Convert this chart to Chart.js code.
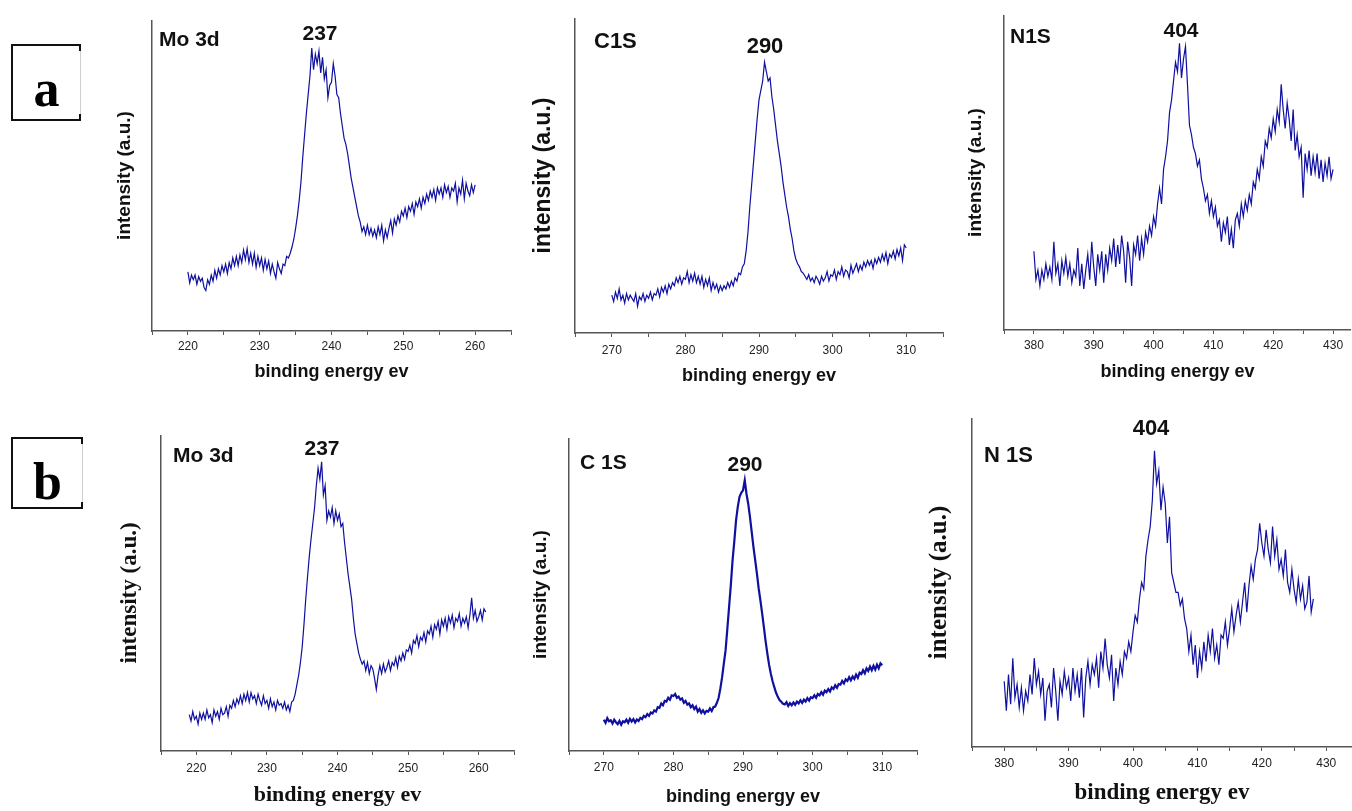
<!DOCTYPE html>
<html>
<head>
<meta charset="utf-8">
<script src="https://cdn.jsdelivr.net/npm/chart.js@4.4.1/dist/chart.umd.min.js"></script>
<style>
  html, body { margin: 0; padding: 0; background: #fff; overflow: hidden; }
  body { width: 1352px; height: 811px; position: relative; font-family: "Liberation Sans", Arial, sans-serif; }
  .panel { position: absolute; }
  .note { position: absolute; font-weight: bold; font-size: 21px; line-height: 1; color: #111; white-space: nowrap; transform: translateY(-50%); }
  .peak { transform: translate(-50%, -50%); }
  .tag { position: absolute; box-sizing: border-box; border: 2px solid #111; border-right: 1px solid #cfcfcf;
         font-family: "Liberation Serif", "Times New Roman", serif; font-weight: bold; font-size: 52px;
         line-height: 85px; text-align: center; color: #000; }
  .tag::before, .tag::after { content: ""; position: absolute; right: -1px; width: 2px; height: 7px; background: #111; }
  .tag::before { top: -2px; }
  .tag::after { bottom: -2px; }
</style>
</head>
<body>

<div class="tag" style="left:11px; top:44px; width:70px; height:77px;">a</div>
<div class="tag" style="left:11px; top:437px; width:72px; height:72px;">b</div>

<div class="panel" style="left:109px; top:20px; width:406px; height:367px;"><canvas id="moA"></canvas></div>
<div class="panel" style="left:526px; top:18px; width:423px; height:373px;"><canvas id="cA"></canvas></div>
<div class="panel" style="left:960px; top:15px; width:391px; height:372px;"><canvas id="nA"></canvas></div>
<div class="panel" style="left:112px; top:435px; width:408px; height:376px;"><canvas id="moB"></canvas></div>
<div class="panel" style="left:525px; top:438px; width:397px; height:372px;"><canvas id="cB"></canvas></div>
<div class="panel" style="left:921px; top:418px; width:431px; height:391px;"><canvas id="nB"></canvas></div>

<div class="note" style="left:159px; top:38px;">Mo 3d</div>
<div class="note peak" style="left:320px; top:32px;">237</div>
<div class="note" style="left:594px; top:41px; font-size:22px;">C1S</div>
<div class="note peak" style="left:765px; top:46px; font-size:22px;">290</div>
<div class="note" style="left:1010px; top:35px;">N1S</div>
<div class="note peak" style="left:1181px; top:29px;">404</div>
<div class="note" style="left:173px; top:454px;">Mo 3d</div>
<div class="note peak" style="left:322px; top:447px;">237</div>
<div class="note" style="left:580px; top:461px;">C 1S</div>
<div class="note peak" style="left:745px; top:463px;">290</div>
<div class="note" style="left:984px; top:455px; font-size:22px;">N 1S</div>
<div class="note peak" style="left:1151px; top:428px; font-size:22px;">404</div>

<script>
// x ranges of the energy axes (eV)
const moRange = [215, 265];
const cRange = [265, 315];
const nRangeA = [375, 433];
const nRangeB = [375, 434];

// scan grids: first energy and spacing (eV)
const moA_start = 220, moA_step = 0.25;
const cA_start = 270, cA_step = 0.25;
const nA_start = 380, nA_step = 1 / 3;
const moB_start = 219, moB_step = 0.25;
const cB_start = 270, cB_step = 0.25;
const nB_start = 380, nB_step = 1 / 3;

// intensities (a.u.)
const moA = [
  19, 15.5, 18, 16.5, 18, 15, 17.5, 16, 17, 14, 13, 16.5, 15, 18, 16, 19.5,
  17, 20, 18, 21, 19, 21.5, 18.5, 22, 20, 23.5, 21, 24, 21, 24.5, 22, 26,
  23, 26.5, 22, 25, 21.5, 25, 20.5, 24, 21, 23.5, 19.5, 23, 20, 22.5, 18.5, 21.5,
  19, 17, 22, 20, 18.5, 21.5, 21, 24, 23.5, 25, 27, 29.5, 33, 37, 42, 48,
  56, 63, 70, 76, 82, 91, 84, 89, 86, 90, 83, 88, 81, 84, 75, 79,
  80, 86, 82, 76, 75, 70, 66, 62, 60, 57, 53, 49, 46, 43, 40, 37,
  35, 32, 33.5, 31, 34, 31, 33, 30.5, 32.5, 30, 33.5, 31, 34, 29, 32.5, 30,
  33, 35.5, 31.5, 36, 34, 37, 35, 38.5, 37, 39.5, 36.5, 40, 38.5, 41, 37.5, 41.5,
  40, 42.5, 39.5, 43, 41, 44, 42, 45, 43, 45.5, 42, 46, 44, 46, 43, 47,
  44.5, 46.5, 43, 46, 45, 47.5, 41.5, 46, 44, 48.5, 42.5, 47.5, 45, 43.5, 47, 44.5,
  47
];
const cA = [
  12, 10, 13, 11, 14, 10.5, 12, 9.5, 12.5, 10.5, 12, 11, 10, 12.5, 8.5, 11.5,
  10.5, 12.5, 10, 12, 11, 13, 10.5, 12.5, 12, 14, 11.5, 14.5, 13, 15, 12.5, 15.5,
  14, 16, 15, 17.5, 16, 18, 15.5, 17.5, 17, 19.5, 16, 18.5, 16.5, 19, 16, 18,
  15.5, 18, 14.5, 17, 15, 17.5, 13.5, 16, 14, 15.5, 13, 15, 13.5, 15, 14, 16,
  14.5, 16.5, 15, 17.5, 16.5, 19, 18.5, 21, 22, 26, 32, 40, 47, 54, 61, 68,
  74, 77, 80, 86, 83, 80, 81, 75, 71, 66, 61, 57, 53, 48, 44, 40,
  37, 33, 30, 26, 23.5, 22, 21, 19.5, 19, 18, 17, 18.5, 16.5, 17.5, 16, 18,
  17, 15.5, 18, 16.5, 17.5, 19.5, 16.5, 18.5, 18, 20, 17, 19.5, 18.5, 21, 18, 20,
  19.5, 17.5, 21.5, 19, 20.5, 22, 19.5, 21.5, 20, 22.5, 21, 23, 21.5, 23, 20.5, 23.5,
  22, 24, 22.5, 25, 23, 25.5, 22, 25, 24, 26, 23.5, 26.5, 24.5, 27, 23, 28,
  27
];
const nA = [
  25, 16, 19, 14, 19, 16, 21, 17, 20, 16, 28, 18, 21, 14, 22,
  18, 23, 17, 21, 15, 19, 17, 26, 14, 21, 13, 19, 24, 16, 28,
  20, 14, 24, 19, 25, 15, 24, 19, 26, 22, 29, 20, 27, 21, 30,
  25, 15, 28, 23, 14, 27, 24, 30, 22, 29, 24, 31, 28, 33, 30,
  36, 33, 40, 45, 40, 51, 55, 60, 69, 73, 79, 85, 82, 91, 80,
  86, 90, 78, 65, 62, 58, 56, 52, 54, 48, 45, 41, 43, 37, 41,
  36, 39, 33, 35, 28, 34, 31, 36, 27, 32, 26, 35, 37, 33, 40,
  36, 41, 38, 43, 40, 47, 45, 51, 48, 55, 52, 60, 58, 64, 61,
  67, 63, 70, 66, 78, 70, 64, 72, 67, 60, 70, 57, 62, 55, 58,
  42, 56, 51, 57, 49, 55, 50, 56, 48, 54, 47, 53, 49, 55, 48,
  51
];
const moB = [
  11.5, 9.5, 12.5, 10, 11, 8.5, 12, 10, 12, 10, 13, 10.5, 11.5, 9, 13, 11,
  12.5, 10, 13.5, 11.5, 12, 14, 11, 14.5, 13.5, 16, 14, 16.5, 15, 17.5, 15, 18,
  16, 18.5, 15.5, 18.5, 16.5, 17.5, 15, 18, 16, 14.5, 17.5, 15, 16, 13.5, 16.5, 14,
  15.5, 13, 16, 14.5, 15, 13.5, 15.5, 13, 14.5, 12.5, 15.5, 16, 18, 21, 24, 28,
  33, 40, 48, 55, 61.5, 67, 72, 77, 84, 89.5, 86, 91.5, 81, 84, 73, 76,
  74, 77, 72, 76, 73, 75, 71, 72, 66, 61, 56, 52, 48, 42, 37, 34,
  31, 29, 27.5, 28.5, 25.5, 28, 24.5, 27, 26, 23, 19.5, 24, 27, 24.5, 27.5, 25,
  26.5, 28.5, 25.5, 28, 27, 29.5, 26.5, 30, 28.5, 31, 29, 32, 31.5, 33.5, 31, 35,
  34, 36.5, 33, 36, 35, 37.5, 34.5, 38, 37, 39.5, 36, 40, 38.5, 41, 37, 41.5,
  39.5, 42, 38.5, 42.5, 40.5, 43, 39, 42, 41, 43.5, 39.5, 42, 40.5, 42.5, 39, 43,
  48.5, 42, 44.5, 41, 42.5, 44.5, 41.5, 45, 44
];
const cB = [
  10, 9, 10.5, 9.5, 9.8, 8.8, 10, 9.2, 8.6, 9.6, 8.4, 9.5, 9.2, 10, 9, 10.3,
  9.4, 10.2, 9.1, 10.1, 9.6, 10.6, 10.2, 11.2, 10.8, 11.8, 11.2, 12.3, 12, 13, 12.6, 14,
  13.8, 15.2, 14.6, 16, 15.8, 17, 16.4, 17.8, 17.6, 18.2, 17, 17.4, 16.4, 16.8, 15.4, 16,
  14.8, 15.2, 14, 14.6, 13.4, 14.2, 12.6, 13.4, 12.2, 13, 12, 12.8, 12.6, 13.6, 12.8, 14,
  14.2, 15.4, 17, 20, 23.6, 28, 32.2, 39, 46, 53, 60.9, 67, 73.7, 78, 81.2, 82.5,
  83.3, 86.5, 82.2, 79, 74.8, 70, 65.2, 61, 56.7, 52, 48.1, 44, 39.6, 35, 31.1, 27.5,
  24.7, 22.3, 20.4, 18.6, 17.3, 16.3, 15.7, 15.1, 14.9, 15.6, 14.4, 15.3, 14.6, 15.5, 14.8, 15.8,
  15.2, 16.2, 15.4, 16.4, 15.8, 16.9, 16.1, 17.2, 16.9, 17.8, 17, 18.2, 17.8, 18.8, 18, 19.3,
  18.8, 19.8, 19, 20.3, 19.8, 21, 20.2, 21.4, 21.2, 22.4, 21.6, 22.9, 22.4, 23.6, 22.6, 23.8,
  23, 24.4, 23.4, 25, 24.6, 25.8, 24.8, 26.4, 25.6, 27, 25.8, 27.2, 26, 27.6, 26.4, 28,
  27.4
];
const nB = [
  20, 11, 22, 13, 27, 15, 19, 12, 18, 11, 17, 14, 22, 16, 27,
  19, 23, 16, 21, 8, 17, 19, 12, 24, 17, 8, 20, 16, 23, 18,
  21, 14, 24, 17, 22, 15, 24, 9, 21, 26, 19, 25, 22, 27, 18,
  29, 24, 33, 25, 21, 28, 14, 24, 19, 26, 22, 29, 27, 32, 29,
  35, 40, 38, 45, 50, 48, 58, 63, 67, 75, 90, 80, 84, 72, 79,
  74, 62, 70, 53, 50, 47, 47, 43, 45, 39, 36, 29, 34, 25, 31,
  21, 29, 24, 32, 26, 34, 29, 36, 27, 31, 25, 34, 33, 38, 31,
  36, 42, 35, 40, 44, 38, 44, 50, 41, 49, 55, 51, 57, 60, 68,
  62, 58, 66, 60, 56, 67, 58, 63, 54, 57, 52, 60, 50, 47, 54,
  48, 44, 51, 45, 49, 42, 44, 52, 41, 45
];

const lineColor = "#1010a0";
const axisColor = "#555";
const sans = "'Liberation Sans', Arial, sans-serif";
const serif = "'Liberation Serif', 'Times New Roman', serif";

function spectrum(id, start, step, counts, range, look) {
  const points = counts.map((c, i) => ({ x: start + i * step, y: c }));
  new Chart(document.getElementById(id), {
    type: "line",
    data: {
      datasets: [{
        data: points,
        borderColor: lineColor,
        borderWidth: look.lw,
        pointRadius: 0,
        tension: 0,
        fill: false
      }]
    },
    options: {
      responsive: true,
      maintainAspectRatio: false,
      animation: false,
      events: [],
      layout: { padding: 0 },
      plugins: { legend: { display: false }, tooltip: { enabled: false } },
      scales: {
        x: {
          type: "linear",
          min: range[0],
          max: range[1],
          afterFit: (s) => { s.height = look.xH; },
          border: { display: true, color: axisColor, width: 1.5 },
          grid: { display: true, drawOnChartArea: false, drawTicks: true, tickLength: 4, color: axisColor, lineWidth: 1 },
          ticks: {
            stepSize: 5,
            autoSkip: false,
            includeBounds: false,
            maxRotation: 0,
            padding: look.tickPad,
            color: "#222",
            font: { family: sans, size: 12 },
            callback: (v) => (v % 10 === 0 ? String(v) : "")
          },
          title: {
            display: true,
            text: "binding energy ev",
            color: "#111",
            padding: { top: 0, bottom: look.xPad },
            font: { family: look.xFont, size: look.xSize, weight: "bold" }
          }
        },
        y: {
          min: 0,
          max: 100,
          afterFit: (s) => { s.width = look.yW; },
          border: { display: true, color: axisColor, width: 1.5 },
          grid: { display: false },
          ticks: { display: false },
          title: {
            display: true,
            text: "intensity (a.u.)",
            color: "#111",
            padding: { top: 4, bottom: 0 },
            font: { family: look.yFont, size: look.ySize, weight: "bold" }
          }
        }
      }
    }
  });
}

spectrum("moA", moA_start, moA_step, moA, moRange,
  { lw: 1.2, yW: 43, xH: 56, tickPad: 4, xPad: 4, xFont: sans, xSize: 18, yFont: sans, ySize: 19 });
spectrum("cA", cA_start, cA_step, cA, cRange,
  { lw: 1.2, yW: 49, xH: 58, tickPad: 6, xPad: 4, xFont: sans, xSize: 18, yFont: sans, ySize: 23 });
spectrum("nA", nA_start, nA_step, nA, nRangeA,
  { lw: 1.2, yW: 44, xH: 57, tickPad: 4, xPad: 4, xFont: sans, xSize: 18, yFont: sans, ySize: 19 });
spectrum("moB", moB_start, moB_step, moB, moRange,
  { lw: 1.2, yW: 49, xH: 60, tickPad: 6, xPad: 2, xFont: serif, xSize: 22, yFont: serif, ySize: 23 });
spectrum("cB", cB_start, cB_step, cB, cRange,
  { lw: 2.2, yW: 44, xH: 59, tickPad: 5, xPad: 2, xFont: sans, xSize: 18, yFont: sans, ySize: 19 });
spectrum("nB", nB_start, nB_step, nB, nRangeB,
  { lw: 1.2, yW: 51, xH: 62, tickPad: 5, xPad: 2, xFont: serif, xSize: 23, yFont: serif, ySize: 25 });
</script>
</body>
</html>
